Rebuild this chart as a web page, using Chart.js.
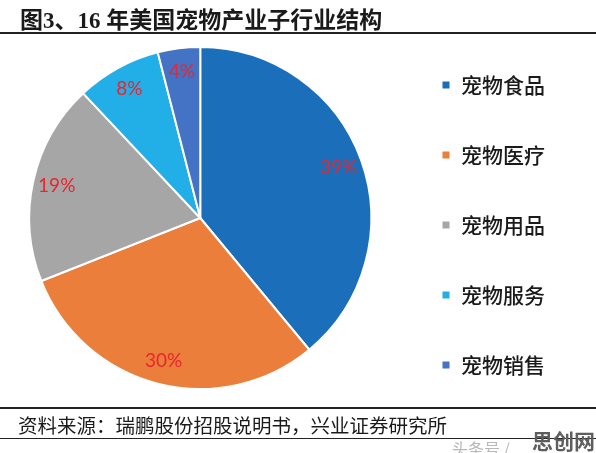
<!DOCTYPE html>
<html>
<head>
<meta charset="utf-8">
<script src="https://cdn.jsdelivr.net/npm/chart.js@4.4.1/dist/chart.umd.min.js"></script>
<style>
  html, body { margin: 0; padding: 0; background: #fff; }
  #wrap { position: relative; width: 596px; height: 453px; overflow: hidden; }
  #grafico { position: absolute; left: 0; top: 0; }
  #titulo {
    position: absolute; left: 20px; top: 1px;
    font: bold 23px "Liberation Serif", "Noto Sans CJK SC", serif; color: #1a1a1a;
    white-space: nowrap;
  }
  .linea { position: absolute; left: 0; width: 596px; background: #222; }
  #fuente {
    position: absolute; left: 18px; top: 410px;
    font: 19.5px "Noto Sans CJK SC", sans-serif; color: #1a1a1a; white-space: nowrap;
  }
  #marca1 { position: absolute; left: 452px; top: 436px; font: 16px "Noto Sans CJK SC", sans-serif; color: #b8b8b8; white-space: nowrap; }
  #marca2 { position: absolute; left: 532px; top: 425px; font: bold 21px "Noto Sans CJK SC", sans-serif; color: #5e5e5e; white-space: nowrap; }
</style>
</head>
<body>
<div id="wrap">
  <canvas id="grafico" width="596" height="453"></canvas>
  <div id="titulo">图3、16 年美国宠物产业子行业结构</div>
  <div class="linea" style="top:32px;height:2px"></div>
  <div class="linea" style="top:407px;height:2px"></div>
  <div id="fuente">资料来源：瑞鹏股份招股说明书，兴业证券研究所</div>
  <div class="linea" style="top:438px;height:1px"></div>
  <div id="marca1">头条号 / </div>
  <div id="marca2">思创网</div>
</div>
<script>
const categorias = ['宠物食品', '宠物医疗', '宠物用品', '宠物服务', '宠物销售'];
const valores = [39, 30, 19, 8, 4];
const colores = ['#1B6EBA', '#EB7E3B', '#A6A6A6', '#22AEE6', '#4472C4'];

// etiquetas rojas dentro de cada sector
const etiquetasPlugin = {
    id: 'etiquetas',
    afterDatasetsDraw(chart) {
        const ctx = chart.ctx;
        const meta = chart.getDatasetMeta(0);
        ctx.save();
        ctx.fillStyle = '#E8262E';
        ctx.font = '19px Lato, "Open Sans", sans-serif';
        ctx.textAlign = 'center';
        ctx.textBaseline = 'middle';
        meta.data.forEach((arco, i) => {
            const p = arco.getProps(['x', 'y', 'startAngle', 'endAngle', 'outerRadius'], true);
            const ang = (p.startAngle + p.endAngle) / 2;
            const r = p.outerRadius * 0.86;
            ctx.fillText(valores[i] + '%', p.x + Math.cos(ang) * r, p.y + Math.sin(ang) * r);
        });
        ctx.restore();
    }
};

const ctx = document.getElementById('grafico').getContext('2d');
const chart = new Chart(ctx, {
    type: 'pie',
    data: {
        labels: categorias,
        datasets: [{
            data: valores,
            backgroundColor: colores,
            borderColor: '#ffffff',
            borderWidth: 2,
            radius: 171
        }]
    },
    options: {
        responsive: false,
        animation: false,
        layout: { padding: { left: 8, right: 41, top: 8, bottom: 25 } },
        plugins: {
            tooltip: { enabled: false },
            legend: {
                position: 'right',
                align: 'center',
                title: { display: true, text: '', padding: { top: 13, bottom: 0 }, font: { size: 1, lineHeight: 1 } },
                labels: {
                    boxWidth: 9,
                    boxHeight: 9,
                    padding: 49,
                    color: '#1a1a1a',
                    font: { family: '"Noto Sans CJK SC", sans-serif', size: 21, weight: '500' }
                }
            }
        }
    },
    plugins: [etiquetasPlugin]
});
</script>
</body>
</html>
